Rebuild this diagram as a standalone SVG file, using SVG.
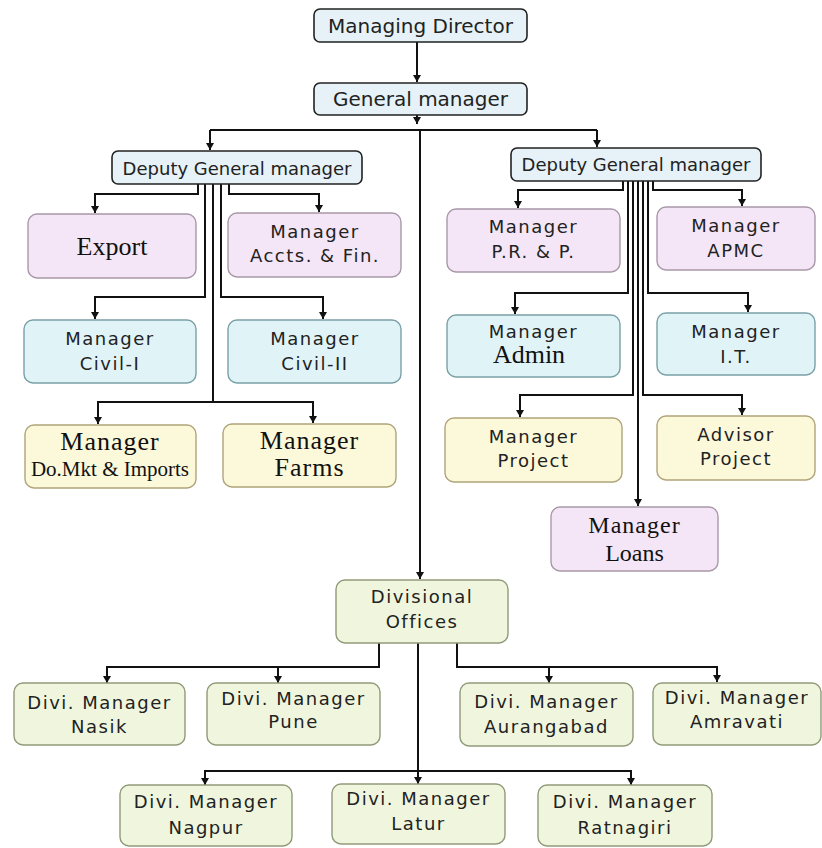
<svg xmlns="http://www.w3.org/2000/svg" width="822" height="848" viewBox="0 0 822 848">
<defs>
<marker id="ah" viewBox="0 0 8 7" refX="4" refY="7" markerWidth="8" markerHeight="7" markerUnits="userSpaceOnUse" orient="0">
<path d="M0,0 L8,0 L4,7 z" fill="#111"/>
</marker>
<style>
.top{fill:#e6f2f7;stroke:#222;stroke-width:1.6}
.pur{fill:#f4e6f6;stroke:#a898a8;stroke-width:1.4}
.blu{fill:#e0f4f8;stroke:#7aa0a6;stroke-width:1.4}
.yel{fill:#fcf8da;stroke:#b0a47a;stroke-width:1.4}
.grn{fill:#f0f6de;stroke:#909a78;stroke-width:1.4}
.s{font-family:"DejaVu Sans",Verdana,sans-serif;font-size:18px;letter-spacing:1.5px;fill:#222;text-anchor:middle}
.h{font-family:"DejaVu Sans",Verdana,sans-serif;font-size:20px;fill:#222;text-anchor:middle}
.d{font-family:"DejaVu Sans",Verdana,sans-serif;font-size:18px;fill:#222;text-anchor:middle}
.r{font-family:"Liberation Serif","Times New Roman",serif;font-size:26px;fill:#111;text-anchor:middle}
.rl{font-family:"Liberation Serif","Times New Roman",serif;font-size:24px;fill:#111;text-anchor:middle}
.rs{font-family:"Liberation Serif","Times New Roman",serif;font-size:21px;fill:#111;text-anchor:middle}
.c{fill:none;stroke:#111;stroke-width:2}
.a{marker-end:url(#ah)}
</style>
</defs>
<rect width="822" height="848" fill="#ffffff"/>

<g id="connectors">
<path class="c a" d="M417,42 V82"/>
<path class="c a" d="M417,115 V124"/>
<path class="c" d="M210,130 H597"/>
<path class="c a" d="M210,130 V150"/>
<path class="c a" d="M597,130 V147"/>
<path class="c a" d="M420,130 V579"/>
<path class="c a" d="M198,184 V194 H95 V213"/>
<path class="c a" d="M205,184 V297 H95 V319"/>
<path class="c a" d="M213,184 V402 H98 V424"/>
<path class="c a" d="M213,402 H313 V423"/>
<path class="c a" d="M221,184 V297 H323 V319"/>
<path class="c a" d="M229,184 V194 H319 V212"/>
<path class="c a" d="M623,181 V190 H518 V208"/>
<path class="c a" d="M628,181 V293 H515 V314"/>
<path class="c a" d="M633,181 V395 H520 V417"/>
<path class="c a" d="M638,181 V506"/>
<path class="c a" d="M643,181 V395 H742 V415"/>
<path class="c a" d="M648,181 V293 H748 V312"/>
<path class="c a" d="M653,181 V190 H742 V206"/>
<path class="c a" d="M379,643 V667 H107 V683"/>
<path class="c a" d="M278,667 V683"/>
<path class="c a" d="M457,643 V667 H717 V682"/>
<path class="c a" d="M549,667 V683"/>
<path class="c a" d="M418,643 V784"/>
<path class="c a" d="M418,771 H205 V785"/>
<path class="c a" d="M418,771 H631 V785"/>
</g>

<g id="md"><rect class="top" x="314" y="9" width="213" height="33" rx="6"/><text class="h" x="420.5" y="33">Managing Director</text></g>
<g id="gm"><rect class="top" x="314" y="83" width="213" height="32" rx="6"/><text class="h" x="420.5" y="106">General manager</text></g>
<g id="dgm-left"><rect class="top" x="112" y="151" width="250" height="33" rx="6"/><text class="d" x="237" y="175">Deputy General manager</text></g>
<g id="dgm-right"><rect class="top" x="511" y="148" width="250" height="33" rx="6"/><text class="d" x="636" y="171">Deputy General manager</text></g>

<g id="export"><rect class="pur" x="28" y="214" width="168" height="64" rx="9"/><text class="r" x="112" y="255">Export</text></g>
<g id="accts"><rect class="pur" x="228" y="213" width="173" height="64" rx="9"/><text class="s" x="315" y="238">Manager</text><text class="s" x="315" y="262">Accts. &amp; Fin.</text></g>
<g id="civil1"><rect class="blu" x="24" y="320" width="172" height="63" rx="9"/><text class="s" x="110" y="345">Manager</text><text class="s" x="110" y="370">Civil-I</text></g>
<g id="civil2"><rect class="blu" x="228" y="320" width="173" height="63" rx="9"/><text class="s" x="315" y="345">Manager</text><text class="s" x="315" y="370">Civil-II</text></g>
<g id="domkt"><rect class="yel" x="25" y="425" width="171" height="63" rx="9"/><text class="r" x="110" y="450" letter-spacing="1">Manager</text><text class="rs" x="110" y="476">Do.Mkt &amp; Imports</text></g>
<g id="farms"><rect class="yel" x="223" y="424" width="173" height="63" rx="9"/><text class="r" x="309.5" y="449" letter-spacing="1">Manager</text><text class="r" x="309.5" y="476" letter-spacing="1">Farms</text></g>

<g id="prp"><rect class="pur" x="447" y="209" width="173" height="63" rx="9"/><text class="s" x="533.5" y="233">Manager</text><text class="s" x="533.5" y="258">P.R. &amp; P.</text></g>
<g id="apmc"><rect class="pur" x="657" y="207" width="158" height="63" rx="9"/><text class="s" x="736" y="232">Manager</text><text class="s" x="736" y="257">APMC</text></g>
<g id="admin"><rect class="blu" x="447" y="315" width="173" height="62" rx="9"/><text class="s" x="533.5" y="338">Manager</text><text class="r" x="529" y="363">Admin</text></g>
<g id="it"><rect class="blu" x="657" y="313" width="158" height="62" rx="9"/><text class="s" x="736" y="338">Manager</text><text class="s" x="736" y="363">I.T.</text></g>
<g id="project"><rect class="yel" x="445" y="418" width="177" height="64" rx="9"/><text class="s" x="533.5" y="443">Manager</text><text class="s" x="533.5" y="467">Project</text></g>
<g id="advisor"><rect class="yel" x="657" y="416" width="158" height="64" rx="9"/><text class="s" x="736" y="441">Advisor</text><text class="s" x="736" y="465">Project</text></g>
<g id="loans"><rect class="pur" x="551" y="507" width="167" height="64" rx="9"/><text class="rl" x="634.5" y="533" letter-spacing="1">Manager</text><text class="rl" x="634.5" y="561">Loans</text></g>

<g id="divisional"><rect class="grn" x="336" y="580" width="172" height="63" rx="9"/><text class="s" x="422" y="603">Divisional</text><text class="s" x="422" y="628">Offices</text></g>

<g id="nasik"><rect class="grn" x="14" y="683" width="171" height="62" rx="9"/><text class="s" x="99.5" y="709">Divi. Manager</text><text class="s" x="99.5" y="733">Nasik</text></g>
<g id="pune"><rect class="grn" x="207" y="683" width="173" height="62" rx="9"/><text class="s" x="293.5" y="705">Divi. Manager</text><text class="s" x="293.5" y="728">Pune</text></g>
<g id="aurangabad"><rect class="grn" x="460" y="683" width="173" height="63" rx="9"/><text class="s" x="546.5" y="708">Divi. Manager</text><text class="s" x="546.5" y="733">Aurangabad</text></g>
<g id="amravati"><rect class="grn" x="653" y="683" width="168" height="62" rx="9"/><text class="s" x="737" y="704">Divi. Manager</text><text class="s" x="737" y="728">Amravati</text></g>
<g id="nagpur"><rect class="grn" x="120" y="785" width="172" height="61" rx="9"/><text class="s" x="206" y="808">Divi. Manager</text><text class="s" x="206" y="834">Nagpur</text></g>
<g id="latur"><rect class="grn" x="332" y="784" width="173" height="60" rx="9"/><text class="s" x="418.5" y="805">Divi. Manager</text><text class="s" x="418.5" y="830">Latur</text></g>
<g id="ratnagiri"><rect class="grn" x="538" y="785" width="174" height="61" rx="9"/><text class="s" x="625" y="808">Divi. Manager</text><text class="s" x="625" y="834">Ratnagiri</text></g>
</svg>
